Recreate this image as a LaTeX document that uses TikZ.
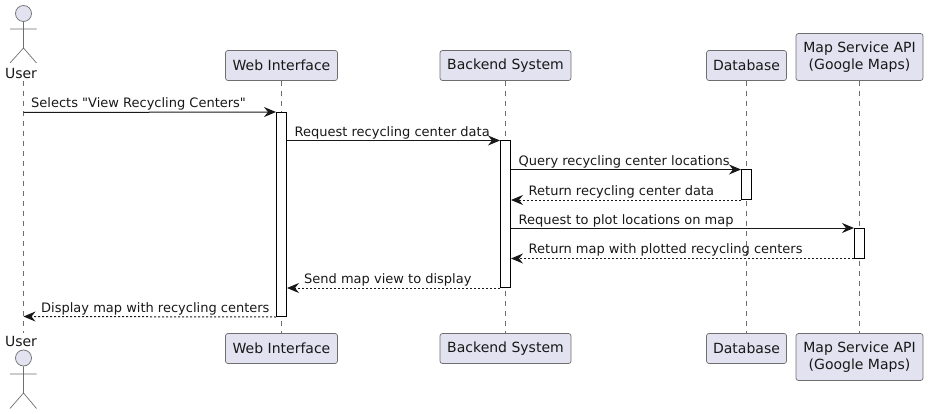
\documentclass[tikz,border=0pt]{standalone}
\usepackage{fontspec}
\setmainfont[Ligatures=TeXOff]{DejaVu Sans}
\usetikzlibrary{arrows.meta,calc}
\definecolor{pfill}{HTML}{E2E2F0}
\definecolor{pline}{HTML}{181818}
\definecolor{thinl}{HTML}{6E6E6E}
\tikzset{
  x=1pt,y=-1pt,
  part/.style={draw=thinl,line width=0.7pt,fill=pfill,rounded corners=2.5pt,inner sep=0pt,align=center,font=\fontsize{14}{16.5}\selectfont,text=pline,minimum height=30pt},
  actv/.style={draw=black,line width=1pt,fill=white,inner sep=0pt,minimum width=10pt},
  lifeline/.style={draw=thinl,line width=0.6pt,dash pattern=on 5pt off 5pt},
  limb/.style={draw=thinl,line width=0.7pt},
  head/.style={circle,draw=thinl,line width=0.7pt,fill=pfill,minimum size=16pt,inner sep=0pt},
  msg/.style={draw=pline,line width=1pt,-{Stealth[length=12pt,width=10pt,inset=4pt]}},
  ret/.style={msg,dash pattern=on 2pt off 2pt},
  lbl/.style={font=\fontsize{13}{15.5}\selectfont,inner sep=0pt,anchor=base west,text=pline},
  alab/.style={font=\fontsize{14}{16}\selectfont,inner sep=0pt,text=pline},
}
\begin{document}
\begin{tikzpicture}
\useasboundingbox (0,0) rectangle (928,414);
% lifelines are drawn after the participants, which they join
\node[part,minimum width=112pt] (wt) at (281.5,65.5) {Web Interface};
\node[part,minimum width=131pt] (bt) at (505.5,65.5) {Backend System};
\node[part,minimum width=80pt] (dt) at (746.5,65.5) {Database};
\node[part,minimum width=127pt,minimum height=47pt] (mt) at (859.5,57) {Map Service API\\(Google Maps)};
\node[part,minimum width=112pt] (wb) at (281.5,348.5) {Web Interface};
\node[part,minimum width=131pt] (bb) at (505.5,348.5) {Backend System};
\node[part,minimum width=80pt] (db) at (746.5,348.5) {Database};
\node[part,minimum width=127pt,minimum height=47pt] (mb) at (859.5,357) {Map Service API\\(Google Maps)};
% actors
\node[alab] (ut) at (21,73) {User};
\node[alab] (ub) at (21,341) {User};
\node[head] (hta) at (23.5,13.5) {};
\coordinate (utneck) at (23.5,48);
\coordinate (utla) at (10,29);
\coordinate (utra) at (36.5,29);
\coordinate (utll) at (10,63);
\coordinate (utrl) at (36.5,63);
\draw[limb] (hta.south) -- (utneck) (utla) -- (utra) (utll) -- (utneck) -- (utrl);
\node[head] (hba) at (23.5,358) {};
\coordinate (ubneck) at (23.5,393);
\coordinate (ubla) at (10,374);
\coordinate (ubra) at (36.5,374);
\coordinate (ubll) at (10,408.5);
\coordinate (ubrl) at (36.5,408.5);
\draw[limb] (hba.south) -- (ubneck) (ubla) -- (ubra) (ubll) -- (ubneck) -- (ubrl);
% lifelines
\coordinate (ul1) at (23.5,81);
\coordinate (ul2) at (23.5,333);
\draw[lifeline] (ul1) -- (ul2);
\draw[lifeline] (wt.south) -- (wb.north);
\draw[lifeline] (bt.south) -- (bb.north);
\draw[lifeline] (dt.south) -- (db.north);
\draw[lifeline] (mt.south) -- (mb.north);
% activations
\node[actv,minimum height=204pt] (aw) at (281.5,214.5) {};
\node[actv,minimum height=146.5pt] (ab) at (505.5,214.25) {};
\node[actv,minimum height=29.5pt] (ad) at (746.5,184.75) {};
\node[actv,minimum height=29.5pt] (am) at (859.5,243.25) {};
% messages
\coordinate (m1) at (23.5,112.5);
\coordinate (m8) at (23.5,316.5);
\draw[msg] (m1) -- (aw.north west);
\draw[msg] (aw.east |- ab.north) -- (ab.north west);
\draw[msg] (ab.east |- ad.north) -- (ad.north west);
\draw[ret] (ad.south west) -- (ab.east |- ad.south);
\draw[msg] (ab.east |- am.north) -- (am.north west);
\draw[ret] (am.south west) -- (ab.east |- am.south);
\draw[ret] (ab.south west) -- (aw.east |- ab.south);
\draw[ret] (aw.south west) -- (m8);
% labels
\node[lbl] (l1) at (31,108) {Selects "View Recycling Centers"};
\node[lbl] (l2) at (294.5,137) {Request recycling center data};
\node[lbl] (l3) at (518.5,166) {Query recycling center locations};
\node[lbl] (l4) at (528.5,195) {Return recycling center data};
\node[lbl] (l5) at (518.5,224) {Request to plot locations on map};
\node[lbl] (l6) at (528.5,253.5) {Return map with plotted recycling centers};
\node[lbl] (l7) at (304,283) {Send map view to display};
\node[lbl] (l8) at (41,312) {Display map with recycling centers};
\end{tikzpicture}
\end{document}
